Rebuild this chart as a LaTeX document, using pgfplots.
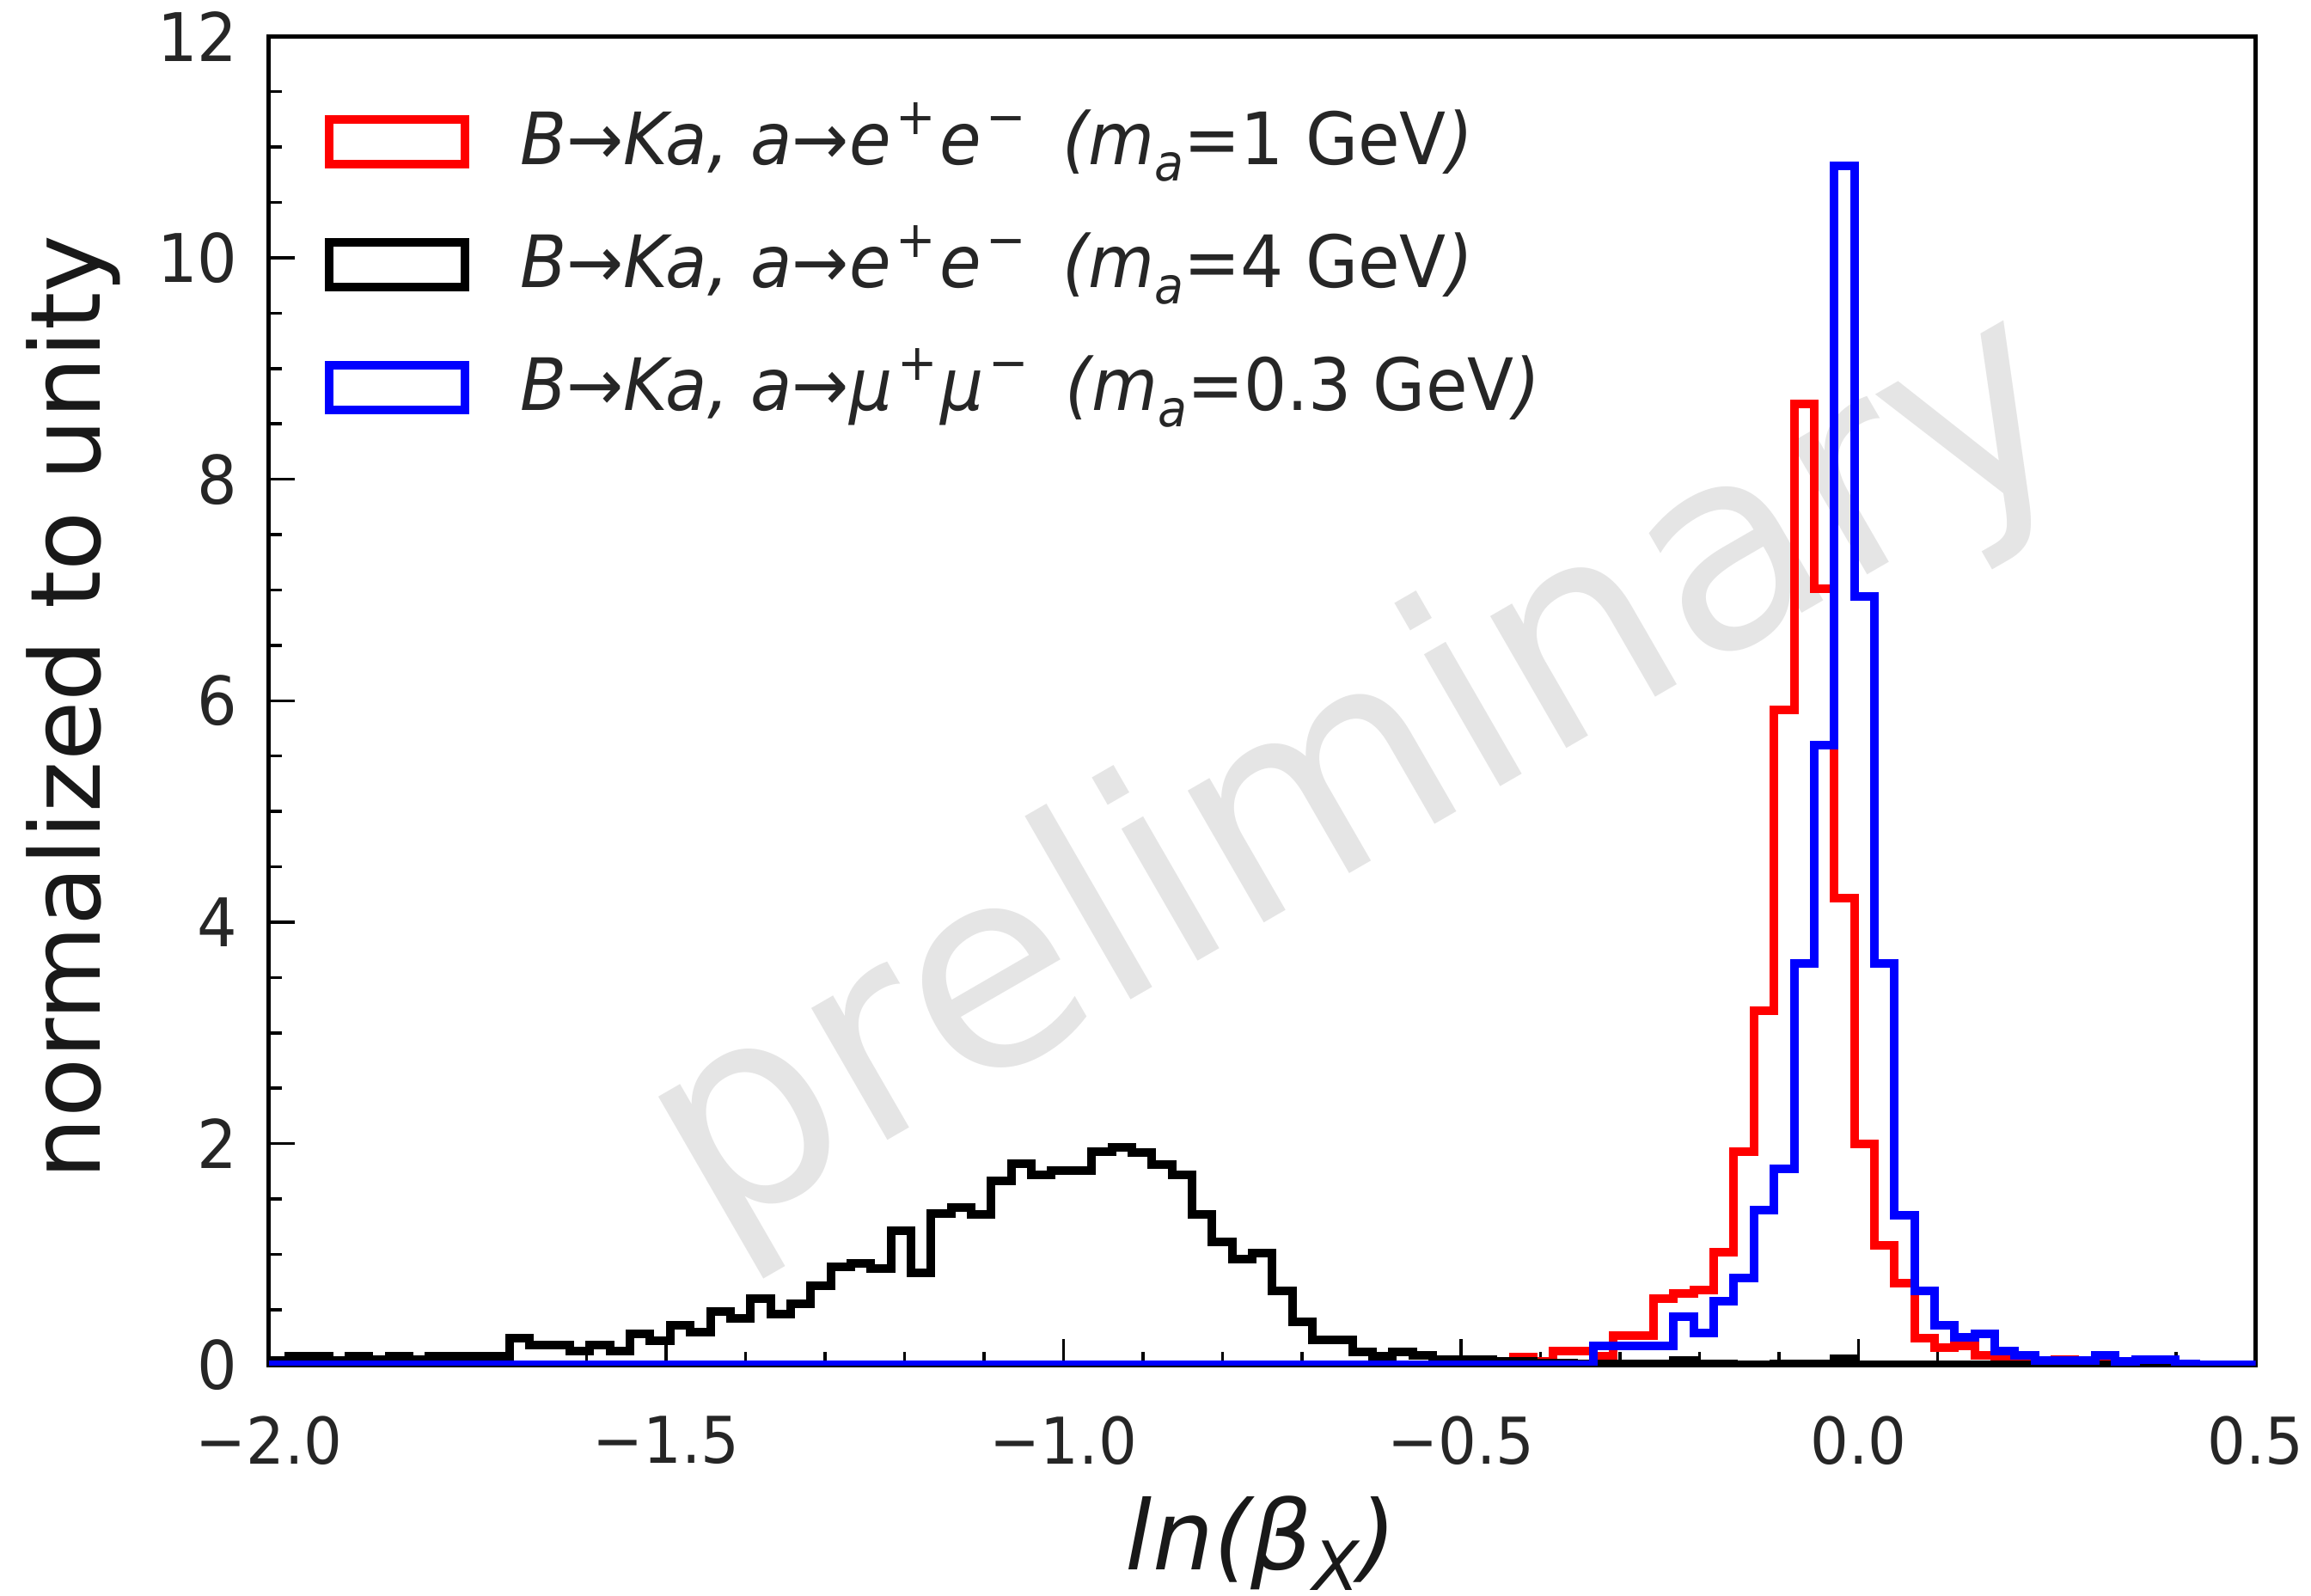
\documentclass[border=0pt]{standalone}
\usepackage{pgfplots}
\usepackage{pgfplotstable}
\pgfplotsset{compat=1.18}
\usepackage{fontspec}
\setmainfont{DejaVu Sans}
\newfontfamily\condfont{DejaVu Sans}[FakeStretch=0.94]
\newcommand\sups[1]{\hspace{0.07em}\raisebox{0.42em}{\fontsize{5.9}{6}\selectfont #1}\hspace{0.05em}}
\newcommand\subs[1]{\raisebox{-0.22em}{\fontsize{5.9}{6}\selectfont #1}}
\newcommand\subx[1]{\raisebox{-0.22em}{\fontsize{7.9}{8}\selectfont #1}}

\pgfplotstableread{
x y
-2.0000 0
-0.4596 0.02
-0.4343 0.07
-0.4091 0.03
-0.3838 0.13
-0.3586 0.13
-0.3333 0.08
-0.3081 0.27
-0.2828 0.27
-0.2576 0.60
-0.2323 0.65
-0.2071 0.68
-0.1818 1.02
-0.1566 1.93
-0.1313 3.20
-0.1061 5.92
-0.0808 8.68
-0.0556 7.01
-0.0303 4.22
-0.0051 2.00
0.0202 1.08
0.0455 0.74
0.0707 0.24
0.0960 0.16
0.1212 0.17
0.1465 0.09
0.1717 0.05
0.1970 0.02
0.2222 0.02
0.2475 0.05
0.2727 0.02
0.2980 0.01
0.3232 0.01
0.3485 0.02
0.3737 0.05
0.3990 0.01
0.4242 0
0.5000 0
}\redtab

\pgfplotstableread{
x y
-2.0000 0
-2.0000 0.04
-1.9747 0.08
-1.9495 0.08
-1.9242 0.04
-1.8990 0.08
-1.8737 0.05
-1.8485 0.08
-1.8232 0.05
-1.7980 0.08
-1.7727 0.08
-1.7475 0.08
-1.7222 0.08
-1.6970 0.24
-1.6717 0.18
-1.6465 0.18
-1.6212 0.13
-1.5960 0.18
-1.5707 0.13
-1.5455 0.28
-1.5202 0.22
-1.4949 0.36
-1.4697 0.30
-1.4444 0.48
-1.4192 0.42
-1.3939 0.60
-1.3687 0.46
-1.3434 0.55
-1.3182 0.72
-1.2929 0.89
-1.2677 0.92
-1.2424 0.87
-1.2172 1.21
-1.1919 0.83
-1.1667 1.37
-1.1414 1.42
-1.1162 1.36
-1.0909 1.66
-1.0657 1.82
-1.0404 1.72
-1.0152 1.76
-0.9899 1.76
-0.9646 1.93
-0.9394 1.97
-0.9141 1.92
-0.8889 1.81
-0.8636 1.72
-0.8384 1.36
-0.8131 1.11
-0.7879 0.96
-0.7626 1.01
-0.7374 0.67
-0.7121 0.39
-0.6869 0.23
-0.6616 0.23
-0.6364 0.12
-0.6111 0.08
-0.5859 0.12
-0.5606 0.09
-0.5354 0.05
-0.5101 0.05
-0.4848 0.05
-0.4596 0.03
-0.4343 0.03
-0.4091 0.02
-0.3838 0.02
-0.3586 0.01
-0.2323 0.04
-0.2071 0.01
-0.1566 0
-0.1061 0.01
-0.0303 0.06
-0.0051 0
0.5000 0
}\blacktab

\pgfplotstableread{
x y
-2.0000 0
-0.3333 0.17
-0.3081 0.17
-0.2828 0.17
-0.2576 0.17
-0.2323 0.44
-0.2071 0.29
-0.1818 0.58
-0.1566 0.79
-0.1313 1.40
-0.1061 1.77
-0.0808 3.63
-0.0556 5.60
-0.0303 10.83
-0.0051 6.94
0.0202 3.63
0.0455 1.35
0.0707 0.67
0.0960 0.36
0.1212 0.25
0.1465 0.28
0.1717 0.13
0.1970 0.09
0.2222 0.04
0.2475 0.04
0.2727 0.04
0.2980 0.09
0.3232 0.03
0.3485 0.05
0.3737 0.05
0.3990 0.01
0.4242 0
0.5000 0
}\bluetab

\begin{document}
\begin{tikzpicture}
\useasboundingbox (-31.27pt,-26.77pt) rectangle (237.63pt,158.83pt);
\begin{axis}[
  at={(0,0)}, anchor=south west,
  scale only axis, width=231.2pt, height=154.6pt,
  xmin=-2, xmax=0.5, ymin=0, ymax=12,
  clip mode=individual,
  xtick={-2,-1.5,-1,-0.5,0,0.5},
  xticklabels={−2.0,−1.5,−1.0,−0.5,0.0,0.5},
  ytick={0,2,4,6,8,10,12},
  yticklabels={0,2,4,6,8,10,12},
  minor x tick num=4, minor y tick num=3,
  tick align=inside, xtick pos=bottom, ytick pos=left,
  major tick length=3pt, minor tick length=1.5pt,
  every tick/.style={black, line width=0.35pt},
  axis line style={line width=0.5pt, black},
  tick label style={font=\condfont\fontsize{7.5}{9}\selectfont, text=black!85},
  xticklabel style={yshift=-2.4pt},
  yticklabel style={font=\condfont\fontsize{7.8}{9}\selectfont, xshift=-0.1pt},
  every axis x label/.style={at={(axis description cs:0.4995,-0.134)}, anchor=center, font=\fontsize{11.2}{13}\selectfont, text=black!90},
  every axis y label/.style={at={(axis description cs:-0.0982,0.495)}, anchor=center, rotate=90, font=\fontsize{11.3}{13}\selectfont, text=black!90},
  xlabel={\itshape ln(β\subx{X})},
  ylabel={normalized to unity},
  legend image code/.code={\draw[#1, line width=1pt] (0pt,-2.6pt) rectangle (15.8pt,2.6pt);},
  legend cell align=left,
  legend style={draw=none, fill=none, at={(axis description cs:0.0272,0.946)}, anchor=north west,
    inner sep=0pt, row sep=6.8pt, column sep=6pt,
    font=\condfont\fontsize{8.4}{10}\selectfont, text=black!85,
    nodes={inner sep=0pt, text height=6.4pt, text depth=1.1pt}},
]
\node[rotate=30, text=black!10, font=\fontsize{32.4}{38}\selectfont] at (axis cs:-0.625,5.3) {preliminary};
\addplot[const plot mark left, red, line width=1pt] table[x=x,y=y] {\redtab};
\addlegendentry{{\itshape B→Ka, a→e\sups{+}e\sups{−}\hspace{0.45em}(m\subs{a}}=1 GeV{\itshape )}}
\addplot[const plot mark left, black, line width=1pt] table[x=x,y=y] {\blacktab};
\addlegendentry{{\itshape B→Ka, a→e\sups{+}e\sups{−}\hspace{0.45em}(m\subs{a}}=4 GeV{\itshape )}}
\addplot[const plot mark left, blue, line width=1pt] table[x=x,y=y] {\bluetab};
\addlegendentry{{\itshape B→Ka, a→μ\sups{+}μ\sups{−}\hspace{0.45em}(m\subs{a}}=0.3 GeV{\itshape )}}
\end{axis}
\end{tikzpicture}
\end{document}
